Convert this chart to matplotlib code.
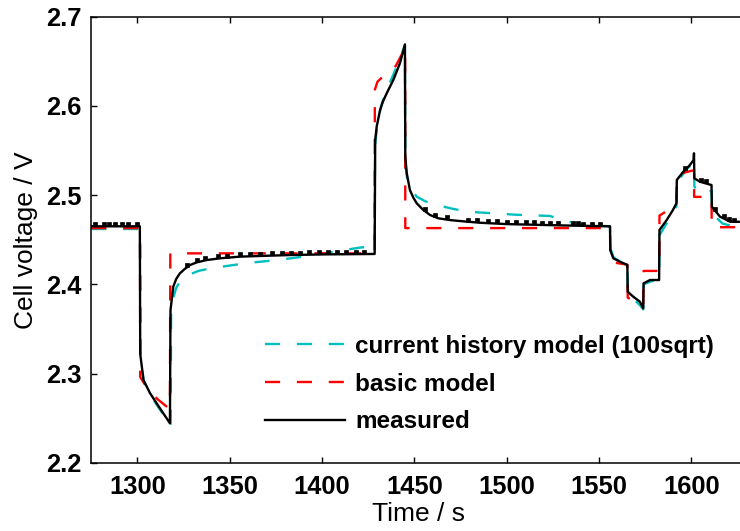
import matplotlib
matplotlib.use("Agg")
import matplotlib.pyplot as plt

# ---------------- data ----------------
meas_t = [1275, 1301.3, 1301.5, 1303.3, 1306.8, 1310.4, 1314, 1317.6,
          1317.9, 1319.4, 1321, 1323, 1325.5, 1328.5, 1332, 1337.5, 1345, 1355.5,
          1370, 1382.6, 1400, 1428.5,
          1428.8, 1429.6, 1431.4, 1433, 1435, 1438.6, 1442.2, 1444.9,
          1445.1, 1445.9, 1447.6, 1449.5, 1451.3, 1454.5, 1458.5, 1463, 1469.3,
          1477, 1485.6, 1500, 1530, 1556,
          1556.2, 1557.8, 1561.4, 1565.4, 1565.6, 1568.6, 1572.2, 1574,
          1574.2, 1577.7, 1582.6, 1582.8, 1586.7, 1590, 1592.0, 1592.2, 1595.7,
          1599, 1601.3, 1601.5, 1601.7, 1604.7, 1611, 1611.2, 1615.6, 1621, 1630]
meas_v = [2.465, 2.465, 2.322, 2.2925, 2.278, 2.2666, 2.2554, 2.2442,
          2.371, 2.3973, 2.406, 2.4123, 2.417, 2.4216, 2.4245, 2.4272, 2.4292, 2.431,
          2.432, 2.4328, 2.4335, 2.434,
          2.5617, 2.5767, 2.595, 2.605, 2.614, 2.629, 2.6478, 2.669,
          2.543, 2.5245, 2.5057, 2.497, 2.4908, 2.484, 2.4777, 2.474, 2.472,
          2.4705, 2.469, 2.4675, 2.466, 2.465,
          2.438, 2.4291, 2.4254, 2.4216, 2.3917, 2.3861, 2.3805, 2.373,
          2.4011, 2.4048, 2.4048, 2.4609, 2.472, 2.483, 2.4908, 2.517, 2.5262,
          2.533, 2.5393, 2.5469, 2.5188, 2.515, 2.5113, 2.487, 2.4758, 2.4702, 2.470]

# small sampling blips on the measured trace
blip_t = [1277, 1281.7, 1284.4, 1288, 1291.5, 1295, 1299.6,
          1326.7, 1332.1, 1336.6, 1343.8, 1348.3, 1355.5, 1360.9, 1366.4, 1372.7,
          1378.1, 1383, 1388, 1393, 1398.5, 1403, 1408, 1413, 1418.5, 1423,
          1455.8, 1461.2, 1467.5, 1479.2, 1483.8, 1490, 1494.6, 1500, 1505, 1510.5,
          1515, 1519, 1523.5, 1528, 1536.1, 1538.8, 1541.5, 1546.1, 1550.6,
          1596.5, 1605.5, 1608, 1613, 1617.5, 1620.5, 1623]
blip_v = [2.4675, 2.4675, 2.4675, 2.4675, 2.4675, 2.4675, 2.4675,
          2.4215, 2.427, 2.4295, 2.4315, 2.4322, 2.4335, 2.4338, 2.4342, 2.4347,
          2.4351, 2.4353, 2.4355, 2.4357, 2.436, 2.4361, 2.4362, 2.4363, 2.4364, 2.4365,
          2.4843, 2.4778, 2.475, 2.4725, 2.4718, 2.4711, 2.4705, 2.47, 2.4698, 2.4695,
          2.4693, 2.469, 2.4689, 2.4687, 2.4683, 2.4682, 2.4681, 2.4679, 2.4677,
          2.5305, 2.517, 2.5155, 2.4845, 2.4765, 2.473, 2.4725]

basic_t = [1275, 1301.4, 1301.5, 1305.9, 1311, 1317.6,
           1317.8, 1428.5,
           1428.6, 1430, 1432, 1436, 1440, 1445,
           1445.1, 1556,
           1556.2, 1565.4, 1565.6, 1574, 1574.2, 1582.7,
           1582.8, 1592, 1592.2, 1601.5, 1601.6, 1611, 1611.1, 1630]
basic_v = [2.463, 2.463, 2.296, 2.2815, 2.271, 2.26,
           2.4347, 2.4347,
           2.618, 2.627, 2.631, 2.636, 2.645, 2.665,
           2.463, 2.463,
           2.425, 2.422, 2.385, 2.376, 2.415, 2.415,
           2.477, 2.489, 2.523, 2.528, 2.498, 2.498, 2.464, 2.464]

hist_t = [1275, 1301.4, 1301.6, 1303.3, 1306.8, 1310.4, 1314, 1318,
          1318.2, 1319.4, 1321, 1323, 1327, 1333, 1340, 1350, 1360, 1375, 1390,
          1405, 1420, 1428.5,
          1428.7, 1430, 1432, 1435, 1438.6, 1442, 1444.9,
          1445.1, 1446, 1448, 1451.3, 1456, 1462.1, 1470, 1478.4, 1492.8, 1505,
          1523.5, 1530, 1540, 1556,
          1556.2, 1558, 1561, 1565.4, 1565.6, 1569, 1572, 1574,
          1574.2, 1578, 1582.6, 1582.8, 1586, 1589, 1592, 1592.2, 1595, 1598,
          1601.5, 1601.7, 1603, 1607, 1611, 1611.2, 1614, 1617, 1621, 1630]
hist_v = [2.462, 2.462, 2.325, 2.292, 2.277, 2.265, 2.254, 2.241,
          2.365, 2.385, 2.396, 2.403, 2.41, 2.415, 2.418, 2.421, 2.424, 2.427, 2.431,
          2.436, 2.441, 2.443,
          2.555, 2.58, 2.6, 2.618, 2.635, 2.652, 2.668,
          2.535, 2.52, 2.508, 2.4982, 2.493, 2.4889, 2.485, 2.4814, 2.4796, 2.478,
          2.4766, 2.472, 2.467, 2.465,
          2.44, 2.43, 2.426, 2.421, 2.39, 2.383, 2.377, 2.372,
          2.4, 2.403, 2.406, 2.455, 2.466, 2.476, 2.488, 2.512, 2.522, 2.53,
          2.537, 2.51, 2.504, 2.502, 2.505, 2.48, 2.474, 2.468, 2.466, 2.466]

legend_labels = ["current history model (100sqrt)", "basic model", "measured"]
x_ticks = [1300, 1350, 1400, 1450, 1500, 1550, 1600]
y_ticks = [2.2, 2.3, 2.4, 2.5, 2.6, 2.7]

# ---------------- figure ----------------
plt.rcParams['font.family'] = ['Liberation Sans', 'DejaVu Sans']
fig = plt.figure(figsize=(7.40, 5.31), dpi=100)
W, H = 740, 531
left_px, right_px, top_px, bot_px = 91.3, 746.6, 16.7, 462.7
ax = fig.add_axes([left_px / W, 1 - bot_px / H, (right_px - left_px) / W, (bot_px - top_px) / H])

cyan = '#00BFBF'
lw = 1.7
l1, = ax.plot(hist_t, hist_v, color=cyan, lw=lw, dashes=(6.4, 7.1), label=legend_labels[0])
l2, = ax.plot(basic_t, basic_v, color='#FF0000', lw=lw, dashes=(6.4, 7.1), label=legend_labels[1])
l3, = ax.plot(meas_t, meas_v, color='black', lw=lw, label=legend_labels[2])
ax.plot(blip_t, blip_v, linestyle='none', marker='s', ms=3.3, mfc='black', mec='black', mew=0.5)

ax.set_xlim(1275, 1630)
ax.set_ylim(2.2, 2.7)
ax.set_xticks(x_ticks)
ax.set_yticks(y_ticks)
ax.set_xticklabels([str(v) for v in x_ticks])
ax.set_yticklabels([f"{v:.1f}" for v in y_ticks])
ax.tick_params(direction='in', length=4.3, width=1.0, top=True, right=True,
               labelsize=18.4, pad=7)
ax.tick_params(axis='x', pad=9)
for lab in ax.get_xticklabels() + ax.get_yticklabels():
    lab.set_fontweight('bold')
for s in ax.spines.values():
    s.set_linewidth(1.1)

ax.set_xlabel("Time / s", fontsize=19, labelpad=2)
ax.set_ylabel("Cell voltage / V", fontsize=19, labelpad=6)

leg = ax.legend(handles=[l1, l2, l3], loc='upper left',
                bbox_to_anchor=(265 / W, 1 - 335 / H), bbox_transform=fig.transFigure,
                frameon=False, borderpad=0, borderaxespad=0,
                handlelength=3.3, handletextpad=0.42, labelspacing=0.6,
                prop={'family': 'Liberation Sans', 'weight': 'bold', 'size': 17.5})

fig.savefig("out.png", dpi=100)
